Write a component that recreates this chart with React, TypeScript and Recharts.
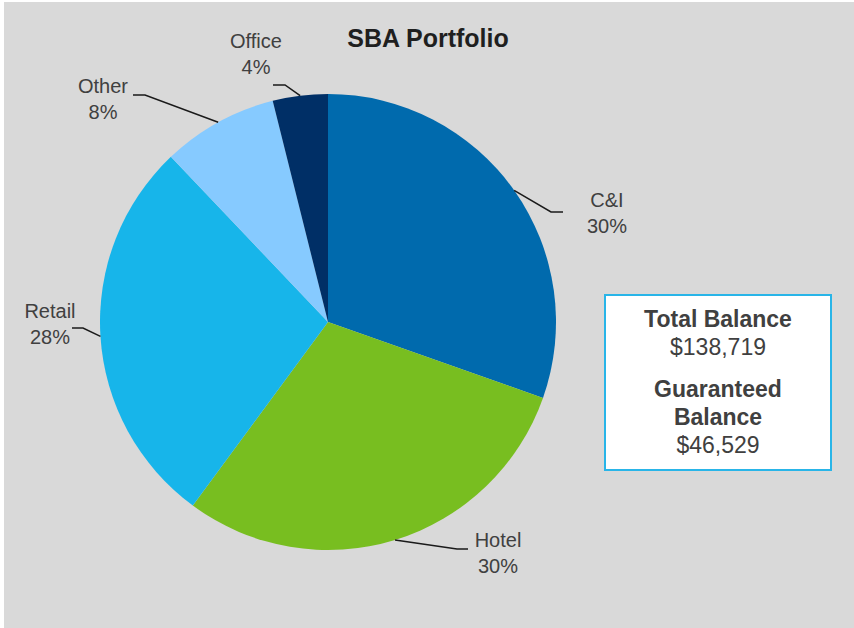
import { PieChart, Pie, Cell } from 'recharts';

const categories = ['C&I', 'Hotel', 'Retail', 'Other', 'Office'];
// shares of balance, % (labels show them rounded)
const shares = [30.4, 29.7, 27.8, 8.2, 3.9];
const sliceColors = ['#006aad', '#78be20', '#17b5ea', '#86caff', '#002f66'];

const chartTitle = 'SBA Portfolio';
const totalBalance = '$138,719';
const guaranteedBalance = '$46,529';

const data = categories.map((name, i) => ({ name, value: shares[i] }));

// label placement, offsets from pie centre (elbow, line end, text x, first baseline)
const LABEL_LAYOUT = [
  { elbow: [223, -110], end: [235, -110], tx: 279, ty: -115 },
  { elbow: [129, 227], end: [140, 227], tx: 170, ty: 225 },
  { elbow: [-245, 6], end: [-256, 6], tx: -278, ty: -4 },
  { elbow: [-183, -227], end: [-195, -227], tx: -225, ty: -229 },
  { elbow: [-43, -237], end: [-55, -237], tx: -72, ty: -274 },
];

const FONT = 'Arial, "Liberation Sans", sans-serif';
const RAD = Math.PI / 180;

const renderLabel = (props: any) => {
  const { cx, cy, midAngle, outerRadius, index, name, value } = props;
  const lay = LABEL_LAYOUT[index];
  const sx = cx + outerRadius * Math.cos(-midAngle * RAD);
  const sy = cy + outerRadius * Math.sin(-midAngle * RAD);
  const points = `${sx},${sy} ${cx + lay.elbow[0]},${cy + lay.elbow[1]} ${cx + lay.end[0]},${cy + lay.end[1]}`;
  return (
    <g key={`lbl-${index}`}>
      <polyline points={points} fill="none" stroke="#1a1a1a" strokeWidth={1.5} />
      <text x={cx + lay.tx} y={cy + lay.ty} textAnchor="middle" fill="#404040" fontSize={20} fontFamily={FONT}>
        {name}
      </text>
      <text x={cx + lay.tx} y={cy + lay.ty + 26} textAnchor="middle" fill="#404040" fontSize={20} fontFamily={FONT}>
        {`${Math.round(value)}%`}
      </text>
    </g>
  );
};

export default function App() {
  return (
    <div style={{ position: 'absolute', left: 0, top: 0, width: 854, height: 628, background: '#ffffff' }}>
      <div style={{ position: 'absolute', left: 4, top: 2, width: 850, height: 626, background: '#d9d9d9' }} />
      <div style={{ position: 'absolute', left: 0, top: 0 }}>
        <PieChart width={854} height={628} margin={{ top: 0, right: 0, bottom: 0, left: 0 }}>
          <Pie
            data={data}
            dataKey="value"
            nameKey="name"
            cx={328}
            cy={322}
            outerRadius={228}
            startAngle={90}
            endAngle={-270}
            stroke="none"
            label={renderLabel}
            labelLine={false}
            isAnimationActive={false}
          >
            {data.map((d, i) => (
              <Cell key={d.name} fill={sliceColors[i]} />
            ))}
          </Pie>
        </PieChart>
      </div>
      <svg width={854} height={628} style={{ position: 'absolute', left: 0, top: 0, pointerEvents: 'none' }}>
        <text x={428} y={47} textAnchor="middle" fontSize={25} fontWeight="bold" fill="#1f1f1f" fontFamily={FONT}>
          {chartTitle}
        </text>
        <rect x={605} y={295} width={226} height={175} fill="#ffffff" stroke="#29b5e8" strokeWidth={2} />
        <g textAnchor="middle" fill="#404040" fontFamily={FONT} fontSize={23}>
          <text x={718} y={327} fontWeight="bold">Total Balance</text>
          <text x={718} y={355}>{totalBalance}</text>
          <text x={718} y={397} fontWeight="bold">Guaranteed</text>
          <text x={718} y={425} fontWeight="bold">Balance</text>
          <text x={718} y={453}>{guaranteedBalance}</text>
        </g>
      </svg>
    </div>
  );
}
